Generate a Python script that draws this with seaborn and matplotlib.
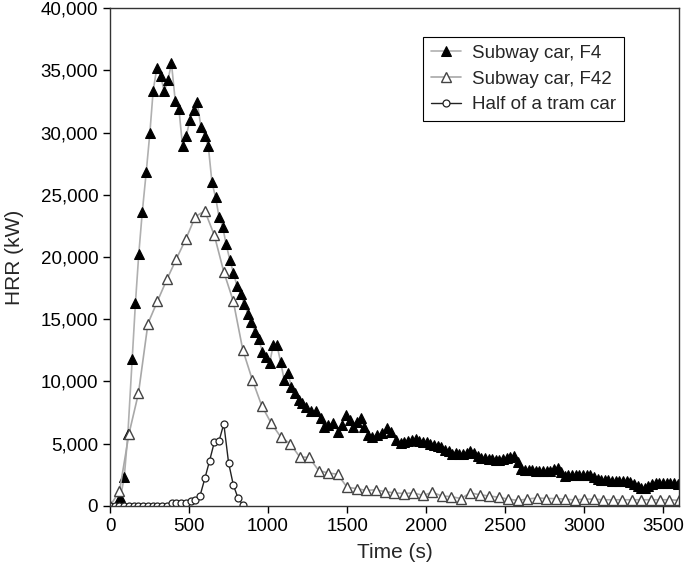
import numpy as np
import pandas as pd
import matplotlib
matplotlib.use("Agg")
import matplotlib.pyplot as plt
from matplotlib.ticker import FuncFormatter
import seaborn as sns

# Subway car F4 (filled triangles)
f4_time = [0, 37, 66, 90, 113, 140, 161, 182, 204, 229, 252, 273, 296, 320, 343, 366,
           389, 413, 436, 459, 483, 505, 529, 552, 575, 599, 622, 645, 668, 690, 713,
           735, 758, 781, 803, 827, 850, 872, 894, 917, 941, 964, 987, 1010, 1033,
           1056, 1079, 1102, 1125, 1148, 1171, 1194, 1217, 1240, 1269, 1301, 1332,
           1353, 1381, 1410, 1444, 1470, 1491, 1516, 1537, 1560, 1586, 1607, 1634,
           1660, 1691, 1723, 1755, 1780, 1807, 1839, 1860, 1885, 1910, 1934, 1957,
           1980, 2003, 2026, 2050, 2073, 2096, 2119, 2142, 2165, 2188, 2211, 2234,
           2257, 2280, 2303, 2326, 2349, 2372, 2395, 2418, 2441, 2464, 2487, 2510,
           2533, 2556, 2579, 2602, 2625, 2648, 2671, 2694, 2717, 2740, 2763, 2786,
           2809, 2832, 2855, 2878, 2901, 2924, 2947, 2970, 2993, 3016, 3039, 3062,
           3085, 3108, 3131, 3154, 3177, 3200, 3223, 3246, 3269, 3292, 3315, 3338,
           3361, 3384, 3407, 3430, 3453, 3476, 3499, 3522, 3545, 3568, 3591]
f4_hrr = [0, 0, 715, 2290, 5800, 11790, 16330, 20240, 23590, 26800, 29930, 33350,
          35170, 34550, 33320, 34180, 35550, 32500, 31880, 28910, 29740, 31000,
          31820, 32440, 30460, 29740, 28910, 26000, 24790, 23210, 22410, 21020,
          19770, 18740, 17690, 16990, 16200, 15440, 14760, 13980, 13400, 12400,
          12000, 11470, 12940, 12940, 11600, 10130, 10670, 9590, 9060, 8520, 8260,
          7990, 7590, 7590, 7050, 6380, 6520, 6650, 5980, 6520, 7320, 6920, 6380,
          6780, 7050, 6380, 5710, 5580, 5710, 5850, 6250, 5980, 5310, 5050, 5100,
          5200, 5300, 5400, 5250, 5150, 5100, 5000, 4910, 4800, 4700, 4500, 4400,
          4150, 4240, 4150, 4200, 4250, 4380, 4240, 4000, 3840, 3840, 3800, 3750,
          3700, 3700, 3800, 3850, 3950, 4000, 3500, 3000, 2910, 2910, 2900, 2850,
          2800, 2770, 2770, 2850, 2950, 3040, 2700, 2400, 2450, 2500, 2500, 2500,
          2500, 2500, 2450, 2300, 2200, 2100, 2100, 2050, 2000, 2000, 2000, 1970,
          1970, 1900, 1750, 1600, 1450, 1440, 1600, 1750, 1840, 1840, 1850, 1840,
          1840, 1840, 1800]

# Subway car F42 (open triangles)
f42_time = [0, 60, 120, 180, 240, 300, 360, 420, 480, 540, 600, 660, 720, 780, 840,
            900, 960, 1020, 1080, 1140, 1200, 1260, 1320, 1380, 1440, 1500, 1560,
            1620, 1680, 1740, 1800, 1860, 1920, 1980, 2040, 2100, 2160, 2220, 2280,
            2340, 2400, 2460, 2520, 2580, 2640, 2700, 2760, 2820, 2880, 2940, 3000,
            3060, 3120, 3180, 3240, 3300, 3360, 3420, 3480, 3540, 3600]
f42_hrr = [0, 1200, 5800, 9050, 14650, 16450, 18200, 19850, 21450, 23250, 23700,
           21750, 18800, 16450, 12550, 10150, 8050, 6650, 5550, 5000, 3950, 3900,
           2850, 2650, 2550, 1500, 1400, 1250, 1300, 1150, 1050, 1000, 1050, 850,
           1100, 800, 750, 600, 1050, 900, 800, 700, 550, 450, 550, 650, 600, 600,
           550, 480, 550, 550, 500, 500, 500, 500, 500, 500, 500, 500, 450]

# Half of a tram car (open circles)
tram_time = [0, 30, 60, 90, 120, 150, 180, 210, 240, 270, 300, 330, 360, 390, 420,
             450, 480, 510, 540, 570, 600, 630, 660, 690, 720, 750, 780, 810, 840]
tram_hrr = [0, 0, 0, 0, 0, 0, 0, 0, 0, 0, 0, 0, 0, 230, 250, 250, 250, 420, 500, 840,
            2210, 3630, 5130, 5230, 6600, 3490, 1700, 630, 100]

x_ticks = [0, 500, 1000, 1500, 2000, 2500, 3000, 3500]
y_ticks = [0, 5000, 10000, 15000, 20000, 25000, 30000, 35000, 40000]

sns.set_style("ticks")
plt.rcParams['font.family'] = ['Liberation Sans', 'DejaVu Sans']

fig = plt.figure(figsize=(6.85, 5.74), dpi=100)
ax = fig.add_axes([0.1606, 0.1185, 0.8306, 0.8675])

df_f4 = pd.DataFrame({'t': f4_time, 'hrr': f4_hrr})
df_f42 = pd.DataFrame({'t': f42_time, 'hrr': f42_hrr})
df_tram = pd.DataFrame({'t': tram_time, 'hrr': tram_hrr})

sns.lineplot(data=df_f4, x='t', y='hrr', ax=ax, color='#b0b0b0', linewidth=1.2,
             marker='^', markersize=7, markerfacecolor='black', markeredgecolor='black',
             label='Subway car, F4')
sns.lineplot(data=df_f42, x='t', y='hrr', ax=ax, color='#a8a8a8', linewidth=1.2,
             marker='^', markersize=7, markerfacecolor='white', markeredgecolor='#444444',
             markeredgewidth=1.0, label='Subway car, F42')
sns.lineplot(data=df_tram, x='t', y='hrr', ax=ax, color='#222222', linewidth=1.0,
             marker='o', markersize=5, markerfacecolor='white', markeredgecolor='#222222',
             markeredgewidth=0.9, label='Half of a tram car')

ax.set_xlim(0, 3600)
ax.set_ylim(0, 40000)
ax.set_xticks(x_ticks)
ax.set_yticks(y_ticks)
ax.yaxis.set_major_formatter(FuncFormatter(lambda v, p: f'{int(v):,}'))
ax.tick_params(direction='out', length=5, width=1, labelsize=13.5, colors='black')
ax.set_xlabel('Time (s)', fontsize=15, labelpad=6)
ax.set_ylabel('HRR (kW)', fontsize=15, labelpad=12)
for s in ax.spines.values():
    s.set_color('#333333')
    s.set_linewidth(1.0)

leg = ax.legend(loc='upper right', bbox_to_anchor=(0.919, 0.960), fontsize=13.5,
                frameon=True, fancybox=False, edgecolor='black', framealpha=1,
                handlelength=1.6, borderpad=0.4, labelspacing=0.45, handletextpad=0.6)
leg.get_frame().set_linewidth(0.8)

fig.savefig('out.png', dpi=100)
